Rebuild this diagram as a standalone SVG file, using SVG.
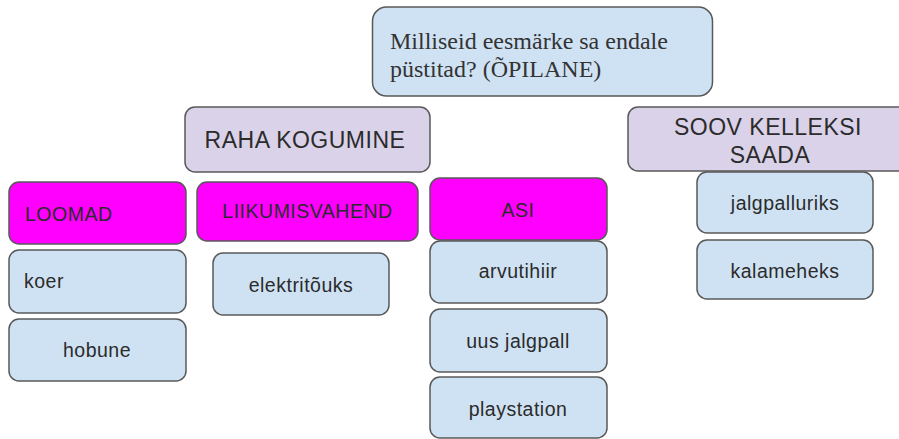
<svg xmlns="http://www.w3.org/2000/svg" width="899" height="439" viewBox="0 0 899 439">
  <style>
    .box rect { stroke: #595959; stroke-width: 1.5; }
    .q { fill: #cfe2f3; }
    .head { fill: #d9d2e9; }
    .cat { fill: #ff00ff; }
    .item { fill: #cfe2f3; }
    text { font-family: "Liberation Sans", Arial, sans-serif; fill: #2b2b2b; }
    .lbl { font-size: 19.5px; letter-spacing: 0.5px; }
    .big { font-size: 23px; letter-spacing: 0.5px; }
    .serif { font-family: "Liberation Serif", "Times New Roman", serif; font-size: 24px; fill: #333; }
    .c { text-anchor: middle; }
  </style>
  <rect width="899" height="439" fill="#ffffff"/>

  <!-- question -->
  <g id="question" class="box">
    <rect class="q" x="372.5" y="7" width="340" height="89" rx="14"/>
    <text class="serif" x="390" y="49">Milliseid eesmärke sa endale</text>
    <text class="serif" x="390" y="77">püstitad? (ÕPILANE)</text>
  </g>

  <!-- headings -->
  <g id="raha-kogumine" class="box">
    <rect class="head" x="185" y="107" width="245" height="65" rx="10"/>
    <text class="big c" x="305" y="148">RAHA KOGUMINE</text>
  </g>
  <g id="soov-kelleksi-saada" class="box">
    <rect class="head" x="628" y="107" width="280" height="64" rx="10"/>
    <text class="big c" x="768" y="135">SOOV KELLEKSI</text>
    <text class="big c" x="770" y="163">SAADA</text>
  </g>

  <!-- categories -->
  <g id="loomad" class="box">
    <rect class="cat" x="9" y="182" width="177" height="62" rx="10"/>
    <text class="lbl" x="25" y="221">LOOMAD</text>
  </g>
  <g id="liikumisvahend" class="box">
    <rect class="cat" x="197" y="182" width="221" height="59" rx="10"/>
    <text class="lbl c" x="307.5" y="218">LIIKUMISVAHEND</text>
  </g>
  <g id="asi" class="box">
    <rect class="cat" x="430" y="178" width="177" height="62" rx="10"/>
    <text class="lbl c" x="518" y="217">ASI</text>
  </g>

  <!-- items -->
  <g id="koer" class="box">
    <rect class="item" x="9" y="250" width="177" height="63" rx="10"/>
    <text class="lbl" x="24" y="288">koer</text>
  </g>
  <g id="hobune" class="box">
    <rect class="item" x="9" y="319" width="177" height="62" rx="10"/>
    <text class="lbl c" x="97" y="357">hobune</text>
  </g>
  <g id="elektritouks" class="box">
    <rect class="item" x="213" y="253" width="176" height="62" rx="10"/>
    <text class="lbl c" x="301" y="292">elektritõuks</text>
  </g>
  <g id="arvutihiir" class="box">
    <rect class="item" x="430" y="241" width="177" height="62" rx="10"/>
    <text class="lbl c" x="518" y="278">arvutihiir</text>
  </g>
  <g id="uus-jalgpall" class="box">
    <rect class="item" x="430" y="309" width="177" height="63" rx="10"/>
    <text class="lbl c" x="518" y="348">uus jalgpall</text>
  </g>
  <g id="playstation" class="box">
    <rect class="item" x="430" y="377" width="177" height="61" rx="10"/>
    <text class="lbl c" x="518" y="416">playstation</text>
  </g>
  <g id="jalgpalluriks" class="box">
    <rect class="item" x="697" y="172" width="176" height="61" rx="10"/>
    <text class="lbl c" x="785" y="210">jalgpalluriks</text>
  </g>
  <g id="kalameheks" class="box">
    <rect class="item" x="697" y="240" width="176" height="59" rx="10"/>
    <text class="lbl c" x="785" y="278">kalameheks</text>
  </g>

  <!-- no connectors are drawn -->
  <g id="connectors"/>
</svg>
